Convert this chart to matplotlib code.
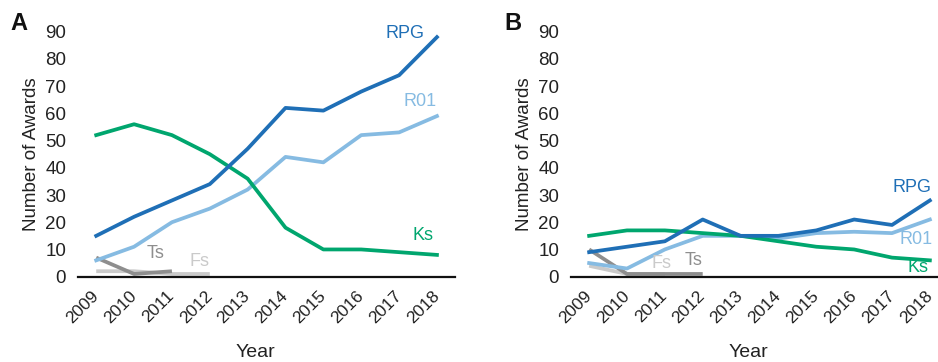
import numpy as np
import matplotlib
matplotlib.use("Agg")
import matplotlib.pyplot as plt

plt.rcParams['font.family'] = ['Liberation Sans', 'DejaVu Sans']

years = list(range(2009, 2019))

# panel A
rpg_a = [15, 22, 28, 34, 47, 62, 61, 68, 74, 88]
r01_a = [6, 11, 20, 25, 32, 44, 42, 52, 53, 59]
ks_a = [52, 56, 52, 45, 36, 18, 10, 10, 9, 8]
ts_a = [7, 1, 2]
fs_a = [2, 2, 1, 1]

# panel B
rpg_b = [9, 11, 13, 21, 15, 15, 17, 21, 19, 28]
r01_b = [5, 3, 10, 15, 15, 14, 16, 16.5, 16, 21]
ks_b = [15, 17, 17, 16, 15, 13, 11, 10, 7, 6]
ts_b = [10, 1, 1, 1]
fs_b = [4, 1, 1]

c_rpg = "#1f6fb6"
c_r01 = "#86bbe2"
c_ks = "#00a66e"
c_ts = "#8e8e8e"
c_fs = "#cacaca"

fig = plt.figure(figsize=(9.38, 3.62), dpi=100)
axA = fig.add_axes([0.0832, 0.2357, 0.402, 0.6768])
axB = fig.add_axes([0.6087, 0.2357, 0.402, 0.6768])


def draw(ax, rpg, r01, ks, ts, fs):
    lw = 2.7
    ax.plot(years[:len(fs)], fs, color=c_fs, lw=lw, solid_capstyle='butt')
    ax.plot(years[:len(ts)], ts, color=c_ts, lw=lw, solid_capstyle='butt')
    ax.plot(years, r01, color=c_r01, lw=lw)
    ax.plot(years, ks, color=c_ks, lw=lw)
    ax.plot(years, rpg, color=c_rpg, lw=lw)
    ax.set_xlim(2008.52, 2018.48)
    ax.set_ylim(0, 90)
    for s in ['top', 'right', 'left']:
        ax.spines[s].set_visible(False)
    ax.spines['bottom'].set_linewidth(1.6)
    ax.spines['bottom'].set_color('#111111')
    ax.set_yticks(range(0, 91, 10))
    ax.set_xticks(years)
    ax.set_xticklabels([str(y) for y in years], rotation=45, ha='right',
                       va='center', rotation_mode='anchor')
    ax.tick_params(axis='y', length=0, labelsize=13.5, colors='#222222', pad=8.5)
    ax.tick_params(axis='x', length=0, labelsize=12.5, colors='#222222', pad=12)
    ax.set_ylabel("Number of Awards", fontsize=13.5, color='#222222', labelpad=4)
    ax.set_xlabel("Year", fontsize=14, color='#222222')
    ax.xaxis.set_label_coords(0.471, -0.31)
    ax.xaxis.label.set_va('center')
    for line in ax.lines:
        line.set_clip_on(False)


draw(axA, rpg_a, r01_a, ks_a, ts_a, fs_a)
draw(axB, rpg_b, r01_b, ks_b, ts_b, fs_b)

fs_lbl = 13
axA.text(2017.68, 89.4, "RPG", color=c_rpg, fontsize=fs_lbl, ha='right', va='center')
axA.text(2018.0, 64.3, "R01", color=c_r01, fontsize=fs_lbl, ha='right', va='center')
axA.text(2017.92, 15.3, "Ks", color=c_ks, fontsize=fs_lbl, ha='right', va='center')
axA.text(2010.58, 8.6, "Ts", color=c_ts, fontsize=fs_lbl, ha='center', va='center')
axA.text(2011.74, 5.5, "Fs", color=c_fs, fontsize=fs_lbl, ha='center', va='center')

axB.text(2018.04, 32.7, "RPG", color=c_rpg, fontsize=fs_lbl, ha='right', va='center')
axB.text(2018.06, 13.7, "R01", color=c_r01, fontsize=fs_lbl, ha='right', va='center')
axB.text(2017.96, 3.3, "Ks", color=c_ks, fontsize=fs_lbl, ha='right', va='center')
axB.text(2010.92, 4.9, "Fs", color=c_fs, fontsize=fs_lbl, ha='center', va='center')
axB.text(2011.75, 5.9, "Ts", color=c_ts, fontsize=fs_lbl, ha='center', va='center')

fig.text(0.0107, 0.9356, "A", fontsize=17, fontweight='bold', color='#111111', va='center')
fig.text(0.538, 0.9356, "B", fontsize=17, fontweight='bold', color='#111111', va='center')

fig.savefig("out.png", dpi=100)
